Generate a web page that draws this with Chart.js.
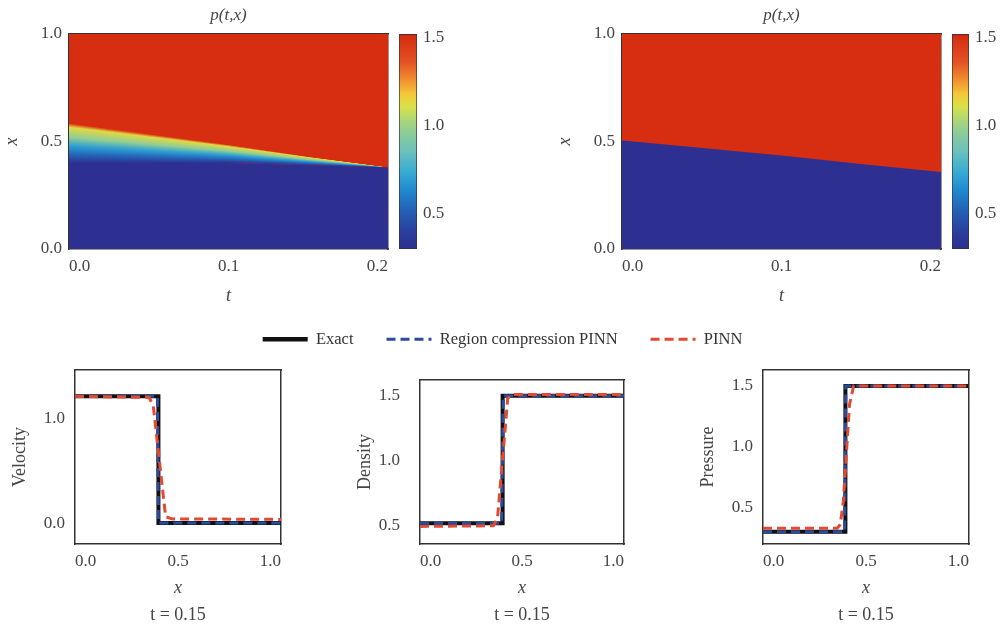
<!DOCTYPE html>
<html><head><meta charset="utf-8">
<script src="https://cdn.jsdelivr.net/npm/chart.js@4.4.1/dist/chart.umd.min.js"></script>
<style>
html,body{margin:0;padding:0;background:#fff;}
#wrap{position:relative;width:1002px;height:628px;overflow:hidden;background:#fff;}
canvas{position:absolute;}
</style></head><body>
<div id="wrap">
<canvas id="leg" style="left:10px;top:298px" width="985" height="120"></canvas>
<canvas id="hm1" style="left:0px;top:0px" width="400" height="310"></canvas>
<canvas id="cb1" style="left:390px;top:0px" width="70" height="310"></canvas>
<canvas id="hm2" style="left:553px;top:0px" width="400" height="310"></canvas>
<canvas id="cb2" style="left:943px;top:0px" width="59" height="310"></canvas>
<canvas id="vel" style="left:0px;top:350px" width="300" height="278"></canvas>
<canvas id="den" style="left:345px;top:350px" width="298" height="278"></canvas>
<canvas id="pre" style="left:688px;top:350px" width="300" height="278"></canvas>
</div>
<script>
// ---------------- DATA ----------------
// Heatmaps p(t,x): boundary of the high/low pressure regions vs t
const heatT = [0, 0.05, 0.1, 0.15, 0.2];
const pinnUpper = [0.585, 0.535, 0.485, 0.43, 0.38];   // red starts above
const pinnLower = [0.40, 0.40, 0.40, 0.39, 0.38];      // dark blue below
const rcShock = [0.505, 0.47, 0.435, 0.395, 0.358];    // sharp interface
// pressure profile across the PINN smeared band (0 = upper edge, 1 = lower edge)
const bandS = [0, 0.1, 0.35, 0.57, 0.8, 1];
const bandP = [1.5, 1.13, 0.97, 0.70, 0.52, 0.3];
const pLow = 0.3;
const pHigh = 1.5;
const heatTTicks = [0, 0.1, 0.2];
const heatXTicks = [0, 0.5, 1.0];
const cbTicks = [0.5, 1.0, 1.5];
const cbRange = [0.3, 1.52];

// Line plots at t = 0.15
const seriesNames = ['Exact', 'Region compression PINN', 'PINN'];
const velExactX = [0, 0.405, 0.405, 1];
const velExactY = [1.21, 1.21, 0, 0];
const velRcX = [0, 0.400, 0.405, 1];
const velRcY = [1.21, 1.21, 0.0, 0.0];
const velPinnX = [0, 0.36, 0.38, 0.44, 0.47, 1];
const velPinnY = [1.21, 1.20, 1.12, 0.06, 0.04, 0.035];

const denExactX = [0, 0.405, 0.405, 1];
const denExactY = [0.52, 0.52, 1.50, 1.50];
const denRcX = [0, 0.400, 0.408, 1];
const denRcY = [0.52, 0.52, 1.50, 1.50];
const denPinnX = [0, 0.36, 0.38, 0.43, 0.45, 1];
const denPinnY = [0.495, 0.50, 0.56, 1.48, 1.51, 1.51];

const preExactX = [0, 0.40, 0.40, 1];
const preExactY = [0.30, 0.30, 1.50, 1.50];
const preRcX = [0, 0.396, 0.402, 1];
const preRcY = [0.30, 0.30, 1.50, 1.50];
const prePinnX = [0, 0.36, 0.375, 0.39, 0.42, 0.44, 1];
const prePinnY = [0.33, 0.33, 0.36, 0.55, 1.35, 1.50, 1.50];

const lineXTicks = [0, 0.5, 1.0];
const velTicks = [0, 1.0];
const denTicks = [0.5, 1.0, 1.5];
const preTicks = [0.5, 1.0, 1.5];

// ---------------- STYLE ----------------
const FONT = 'Liberation Serif';
const TXT = '#444';
const FRAME = '#333';
const exactColor = '#111111';
const rcColor = '#2B4C9B';
const pinnColor = '#E24A33';
const cmapStops = [
  [0.00, [45, 48, 145]],
  [0.08, [42, 62, 158]],
  [0.18, [36, 98, 182]],
  [0.28, [32, 140, 210]],
  [0.36, [55, 172, 212]],
  [0.45, [105, 192, 188]],
  [0.53, [135, 202, 158]],
  [0.60, [172, 215, 118]],
  [0.66, [215, 225, 72]],
  [0.72, [245, 200, 55]],
  [0.79, [240, 140, 45]],
  [0.87, [228, 82, 35]],
  [0.99, [214, 44, 16]],
  [1.00, [180, 30, 25]]
];
const rgb = c => `rgb(${c[0]},${c[1]},${c[2]})`;
function cmapAt(f) {
  f = Math.max(0, Math.min(1, f));
  for (let i = 1; i < cmapStops.length; i++) {
    if (f <= cmapStops[i][0]) {
      const [f0, c0] = cmapStops[i - 1], [f1, c1] = cmapStops[i];
      const k = (f - f0) / (f1 - f0);
      return [0, 1, 2].map(j => Math.round(c0[j] + k * (c1[j] - c0[j])));
    }
  }
  return cmapStops[cmapStops.length - 1][1];
}
const fracOf = v => (v - cbRange[0]) / (cbRange[1] - cbRange[0]);

function interp(xs, ys, x) {
  if (x <= xs[0]) return ys[0];
  for (let i = 1; i < xs.length; i++) {
    if (x <= xs[i]) {
      const f = (x - xs[i - 1]) / (xs[i] - xs[i - 1]);
      return ys[i - 1] + f * (ys[i] - ys[i - 1]);
    }
  }
  return ys[ys.length - 1];
}
const fixTicks = arr => s => { s.ticks = arr.map(v => ({ value: v })); };
const fmt1 = v => Number(v).toFixed(1);
const zip = (xs, ys) => xs.map((x, i) => ({ x, y: ys[i] }));

// field plugin: paints the pressure field column by column through the scales
function fieldPlugin(ts, upper, lower) {
  return {
    id: 'field',
    beforeDatasetsDraw(chart) {
      const { ctx, chartArea: a, scales: { x, y } } = chart;
      const hiC = rgb(cmapAt(fracOf(pHigh))), loC = rgb(cmapAt(fracOf(pLow)));
      ctx.save();
      ctx.beginPath(); ctx.rect(a.left, a.top, a.right - a.left, a.bottom - a.top); ctx.clip();
      ctx.fillStyle = hiC;
      ctx.fillRect(a.left, a.top, a.right - a.left, a.bottom - a.top);
      for (let px = Math.floor(a.left); px < a.right; px++) {
        const t = x.getValueForPixel(px + 0.5);
        const up = interp(ts, upper, t), lo = interp(ts, lower, t);
        const yUp = y.getPixelForValue(up), yLo = y.getPixelForValue(lo);
        ctx.fillStyle = loC; ctx.fillRect(px, yLo, 1, a.bottom - yLo + 1);
        if (yLo - yUp > 0.3) {
          const g = ctx.createLinearGradient(0, yUp, 0, yLo);
          for (let k = 0; k < bandS.length; k++) {
            g.addColorStop(bandS[k], rgb(cmapAt(fracOf(bandP[k]))));
          }
          ctx.fillStyle = g; ctx.fillRect(px, yUp, 1, yLo - yUp);
        }
      }
      ctx.restore();
    }
  };
}

const tickFont = { family: FONT, size: 17 };
const titleFont = { family: FONT, size: 18 };
const italicFont = { family: FONT, size: 18, style: 'italic' };
const frameBorder = { display: true, color: FRAME, width: 1.5 };
const hidden = (pos, size, extra) => Object.assign({
  type: 'linear', position: pos, min: 0, max: 1, z: 1,
  ticks: { display: false }, grid: { display: false, drawTicks: false },
  border: frameBorder,
  afterFit: s => { if (pos === 'top' || pos === 'bottom') s.height = size; else s.width = size; }
}, extra || {});

Chart.defaults.font.family = FONT;
Chart.defaults.color = TXT;

function heatmap(id, upper, lower) {
  return new Chart(document.getElementById(id), {
    type: 'line',
    data: { datasets: [] },
    plugins: [fieldPlugin(heatT, upper, lower)],
    options: {
      responsive: false, animation: false,
      layout: { padding: 0 },
      plugins: { legend: { display: false }, tooltip: { enabled: false } },
      scales: {
        x: {
          type: 'linear', position: 'bottom', min: heatT[0], max: heatT[heatT.length - 1], z: 1,
          afterBuildTicks: fixTicks(heatTTicks),
          afterFit: s => { s.height = 61; },
          ticks: { font: tickFont, color: TXT, padding: 7, align: 'inner', maxRotation: 0, callback: fmt1 },
          grid: { display: false, drawTicks: false },
          border: frameBorder,
          title: { display: true, text: 't', font: italicFont, color: TXT, padding: { top: 0, bottom: 3 } }
        },
        y: {
          type: 'linear', position: 'left', min: 0, max: 1, z: 1,
          afterBuildTicks: fixTicks(heatXTicks),
          afterFit: s => { s.width = 69; },
          ticks: { font: tickFont, color: TXT, padding: 7, callback: fmt1 },
          grid: { display: false, drawTicks: false },
          border: frameBorder,
          title: { display: true, text: 'x', font: italicFont, color: TXT, padding: { top: 1, bottom: 0 } }
        },
        x2: hidden('top', 34, { title: { display: true, text: 'p(t,x)', font: { family: FONT, size: 17, style: 'italic' }, color: TXT, padding: { top: 5, bottom: 0 } } }),
        y2: hidden('right', 12)
      }
    }
  });
}

function colorbar(id, padLeft, axisW) {
  return new Chart(document.getElementById(id), {
    type: 'bar',
    data: {
      labels: ['p'],
      datasets: [{
        data: [[cbRange[0], cbRange[1]]],
        barPercentage: 1, categoryPercentage: 1,
        borderWidth: 1, borderColor: FRAME, borderSkipped: false,
        backgroundColor: c => {
          const ch = c.chart;
          if (!ch.chartArea) return '#888';
          const ys = ch.scales.y;
          const g = ch.ctx.createLinearGradient(0, ys.getPixelForValue(cbRange[0]), 0, ys.getPixelForValue(cbRange[1]));
          cmapStops.forEach(([f, col]) => g.addColorStop(f, rgb(col)));
          return g;
        }
      }]
    },
    options: {
      responsive: false, animation: false,
      layout: { padding: { left: padLeft, top: 34, bottom: 61, right: 0 } },
      plugins: { legend: { display: false }, tooltip: { enabled: false } },
      scales: {
        x: { display: false },
        y: {
          position: 'right', min: cbRange[0], max: cbRange[1],
          afterBuildTicks: fixTicks(cbTicks),
          afterFit: s => { s.width = axisW; },
          ticks: { font: tickFont, color: TXT, padding: 6, callback: fmt1 },
          grid: { display: false, drawTicks: false },
          border: { display: false }
        }
      }
    }
  });
}

function linePlot(id, yLabel, yMin, yMax, yTicks, ex, rc, pn, topH, ytPad) {
  const ds = (label, pts, color, w, dash) => ({
    label, data: pts, borderColor: color, backgroundColor: color, borderWidth: w,
    borderDash: dash, pointRadius: 0, tension: 0, fill: false, xAxisID: 'x', yAxisID: 'y'
  });
  return new Chart(document.getElementById(id), {
    type: 'line',
    data: {
      datasets: [
        ds(seriesNames[2], zip(pn[0], pn[1]), pinnColor, 3, [9, 5]),
        ds(seriesNames[1], zip(rc[0], rc[1]), rcColor, 3, [9, 5]),
        ds(seriesNames[0], zip(ex[0], ex[1]), exactColor, 4, [])
      ]
    },
    options: {
      responsive: false, animation: false,
      layout: { padding: 0 },
      plugins: { legend: { display: false }, tooltip: { enabled: false } },
      scales: {
        x: {
          type: 'linear', position: 'bottom', min: 0, max: 1, weight: 0,
          afterBuildTicks: fixTicks(lineXTicks),
          afterFit: s => { s.height = 56; },
          ticks: { font: tickFont, color: TXT, padding: 7, align: 'inner', maxRotation: 0, callback: fmt1 },
          grid: { display: false, drawTicks: false },
          border: frameBorder,
          title: { display: true, text: 'x', font: italicFont, color: TXT, padding: { top: 0, bottom: 1 } }
        },
        y: {
          type: 'linear', position: 'left', min: yMin, max: yMax,
          afterBuildTicks: fixTicks(yTicks),
          afterFit: s => { s.width = 75; },
          ticks: { font: tickFont, color: TXT, padding: ytPad, callback: fmt1 },
          grid: { display: false, drawTicks: false },
          border: frameBorder,
          title: { display: true, text: yLabel, font: titleFont, color: TXT, padding: { top: 9, bottom: 0 } }
        },
        xt: {
          type: 'linear', position: 'bottom', min: 0, max: 1, weight: 1,
          afterFit: s => { s.height = 28; },
          ticks: { display: false }, grid: { display: false, drawTicks: false }, border: { display: false },
          title: { display: true, text: 't = 0.15', font: titleFont, color: TXT, padding: { top: 0, bottom: 2 } }
        },
        x2: hidden('top', topH),
        y2: hidden('right', 19)
      }
    }
  });
}

heatmap('hm1', pinnUpper, pinnLower);
colorbar('cb1', 9, 43);
heatmap('hm2', rcShock, rcShock);
colorbar('cb2', 9, 33);

linePlot('vel', 'Velocity', -0.2, 1.46, velTicks, [velExactX, velExactY], [velRcX, velRcY], [velPinnX, velPinnY], 17, 10);
linePlot('den', 'Density', 0.36, 1.62, denTicks, [denExactX, denExactY], [denRcX, denRcY], [denPinnX, denPinnY], 16, 20);
linePlot('pre', 'Pressure', 0.20, 1.63, preTicks, [preExactX, preExactY], [preRcX, preRcY], [prePinnX, prePinnY], 17, 10);

// shared legend
new Chart(document.getElementById('leg'), {
  type: 'line',
  data: {
    labels: [],
    datasets: [
      { label: seriesNames[0], data: [], borderColor: exactColor, backgroundColor: exactColor, borderWidth: 4.5, borderDash: [] },
      { label: seriesNames[1], data: [], borderColor: rcColor, backgroundColor: rcColor, borderWidth: 3, borderDash: [9, 5] },
      { label: seriesNames[2], data: [], borderColor: pinnColor, backgroundColor: pinnColor, borderWidth: 3, borderDash: [9, 5] }
    ]
  },
  options: {
    responsive: false, animation: false,
    scales: { x: { display: false }, y: { display: false } },
    plugins: {
      tooltip: { enabled: false },
      legend: {
        display: true, position: 'top',
        labels: {
          usePointStyle: true, pointStyle: 'line', pointStyleWidth: 45,
          font: { family: FONT, size: 16.5 }, color: '#333', padding: 33, boxHeight: 16,
          generateLabels: chart => chart.data.datasets.map((d, i) => ({
            text: d.label, fillStyle: d.borderColor, strokeStyle: d.borderColor,
            lineWidth: d.borderWidth, lineDash: d.borderDash, lineCap: 'butt',
            pointStyle: 'line', hidden: false, datasetIndex: i, fontColor: '#333'
          }))
        }
      }
    }
  }
});
</script>
</body></html>
